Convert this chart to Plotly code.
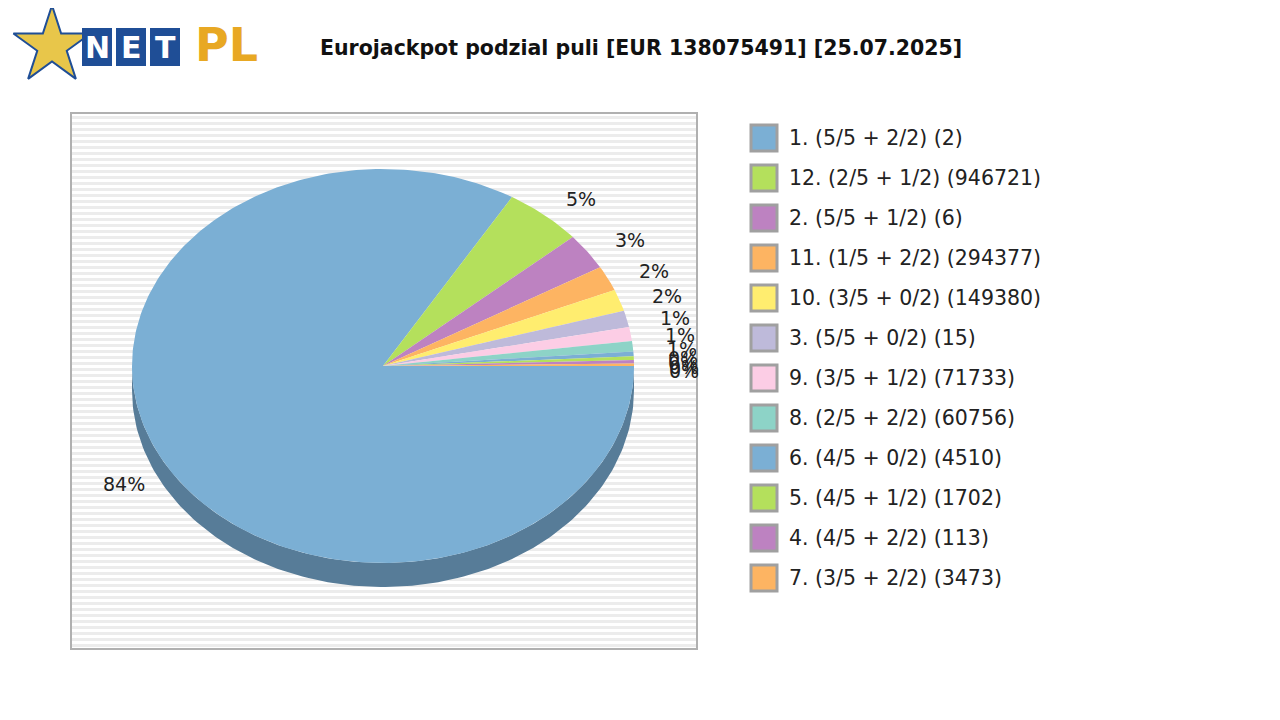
import numpy as np
import plotly.graph_objects as go

labels = ["1. (5/5 + 2/2) (2)", "12. (2/5 + 1/2) (946721)", "2. (5/5 + 1/2) (6)",
          "11. (1/5 + 2/2) (294377)", "10. (3/5 + 0/2) (149380)", "3. (5/5 + 0/2) (15)",
          "9. (3/5 + 1/2) (71733)", "8. (2/5 + 2/2) (60756)", "6. (4/5 + 0/2) (4510)",
          "5. (4/5 + 1/2) (1702)", "4. (4/5 + 2/2) (113)", "7. (3/5 + 2/2) (3473)"]
values = [117500000, 7100000, 4200000, 2900000, 2500000, 1900000,
          1600000, 1200000, 550000, 430000, 400000, 280000]
colors = ["#7bafd4", "#b4e05c", "#bd82c1", "#fdb462", "#ffed6f", "#bebada",
          "#fccde5", "#8dd3c7", "#7bafd4", "#b4e05c", "#bd82c1", "#fdb462"]
title = "Eurojackpot podzial puli [EUR 138075491] [25.07.2025]"

cx, cy, rx, ry, depth = 383, 366, 251, 197, 24
fig = go.Figure()
shapes = []
shapes.append(dict(type="rect", x0=71, x1=697, y0=113, y1=649, fillcolor="#ffffff",
                   line=dict(color="#b0b0b0", width=2), layer="below"))
for y in np.arange(116, 647, 6):
    shapes.append(dict(type="rect", x0=72, x1=696, y0=y, y1=y + 3, fillcolor="#ececec",
                       line=dict(width=0), layer="below"))

t = np.linspace(np.pi, 2 * np.pi, 150)
fig.add_trace(go.Scatter(x=np.concatenate([cx + rx * np.cos(t), cx + rx * np.cos(t[::-1])]),
                         y=np.concatenate([cy - ry * np.sin(t), cy + depth - ry * np.sin(t[::-1])]),
                         fill="toself", fillcolor="#577c98", line=dict(width=0),
                         mode="lines", hoverinfo="skip", showlegend=False))

total = sum(values)
cum = 0.0
for lab, v, c in zip(labels, values, colors):
    f = v / total
    a0 = -cum * 2 * np.pi
    a1 = -(cum + f) * 2 * np.pi
    th = np.linspace(a0, a1, max(3, int(f * 400)))
    xs = np.concatenate([[cx], cx + rx * np.cos(th), [cx]])
    ys = np.concatenate([[cy], cy - ry * np.sin(th), [cy]])
    fig.add_trace(go.Scatter(x=xs, y=ys, fill="toself", fillcolor=c, mode="lines",
                             line=dict(width=0), name=lab, showlegend=False))
    am = (a0 + a1) / 2
    k = 1.15
    fig.add_annotation(x=cx + rx * k * np.cos(am) + (12 if np.cos(am) > 0 else -8),
                       y=cy - ry * k * np.sin(am) + 6, text=f"{round(f*100)}%",
                       showarrow=False, font=dict(size=19, color="#222"))
    cum += f

ly = [138 + 40 * i for i in range(len(labels))]
fig.add_trace(go.Scatter(x=[764] * len(labels), y=ly, mode="markers",
                         marker=dict(symbol="square", size=26, color=colors,
                                     line=dict(color="#a0a0a0", width=3)),
                         hoverinfo="skip", showlegend=False))
for lab, y in zip(labels, ly):
    fig.add_annotation(x=787, y=y, text=lab, xanchor="left", showarrow=False,
                       font=dict(size=20.5, color="#222"))

fig.add_annotation(x=641, y=48, text=f"<b>{title}</b>", showarrow=False,
                   font=dict(size=20.5, color="#111"))
for i, ch in enumerate("NET"):
    x0 = 82 + i * 34
    shapes.append(dict(type="rect", x0=x0, x1=x0 + 30, y0=28, y1=66, fillcolor="#1f4e96",
                       line=dict(width=0)))
    fig.add_annotation(x=x0 + 15, y=47, text=f"<b>{ch}</b>", showarrow=False,
                       font=dict(size=30, color="white"))
fig.add_annotation(x=226, y=45, text="<b>PL</b>", showarrow=False,
                   font=dict(size=46, color="#e8a823"))
fig.add_trace(go.Scatter(x=[52], y=[46], mode="markers",
                         marker=dict(symbol="star", size=58, color="#e8c64a",
                                     line=dict(color="#1f4e96", width=2)),
                         hoverinfo="skip", showlegend=False))

fig.update_layout(width=1280, height=720, margin=dict(l=0, r=0, t=0, b=0),
                  paper_bgcolor="white", plot_bgcolor="white", shapes=shapes,
                  font=dict(family="DejaVu Sans"),
                  xaxis=dict(range=[8, 1288], visible=False, fixedrange=True),
                  yaxis=dict(range=[728, 8], visible=False, fixedrange=True))
fig.write_html("out.html")
